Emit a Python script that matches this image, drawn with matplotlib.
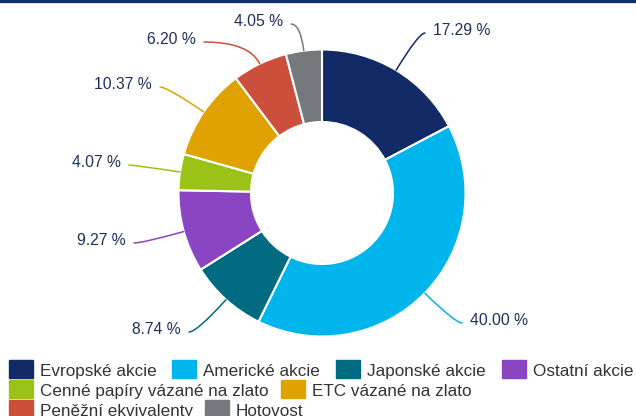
import matplotlib
matplotlib.use("Agg")
import matplotlib.pyplot as plt
import numpy as np

plt.rcParams['font.family'] = ['Liberation Sans', 'DejaVu Sans']

categories = ['Evropské akcie', 'Americké akcie', 'Japonské akcie', 'Ostatní akcie',
              'Cenné papíry vázané na zlato', 'ETC vázané na zlato',
              'Peněžní ekvivalenty', 'Hotovost']
values = [17.29, 40.00, 8.74, 9.27, 4.07, 10.37, 6.20, 4.05]
colors = ['#122b67', '#00b5ec', '#006b80', '#8a45c2',
          '#9bc216', '#e0a200', '#cc4f3b', '#75787d']

# where each leader line ends (pixels, y down)
lab_x = [425, 462, 189, 134, 129, 160, 204, 291]
lab_y = [33, 323, 332, 243, 165, 87, 42, 24]

# legend layout (rows flow like the original)
leg_rows = [[0, 1, 2, 3], [4, 5], [6, 7]]
leg_x = [[9, 172, 336, 502], [9, 281], [9, 205]]
leg_y = [360, 380, 400]

label_col = '#1d2f5c'
legend_col = '#333333'

fig = plt.figure(figsize=(6.36, 4.16), dpi=100)
ax = fig.add_axes([0, 0, 1, 1])

cx, cy, R = 322, 193, 143.5
ax.pie(values, colors=colors, center=(cx, cy), radius=R,
       startangle=-90, counterclock=True,
       wedgeprops=dict(width=72.5, edgecolor='white', linewidth=1.5))

ax.set_xlim(0, 636)
ax.set_ylim(416, 0)
ax.set_aspect('auto')
ax.axis('off')

# top border line
ax.axhline(1.2, color='#10306e', lw=2.4)

# labels with curved leader lines
cum = np.cumsum(values) - np.array(values) / 2
for v, c, m, lx, ly in zip(values, colors, cum, lab_x, lab_y):
    phi = np.radians(m / sum(values) * 360)
    px = cx + R * np.sin(phi)
    py = cy - R * np.cos(phi)
    ang = 90 - np.degrees(phi)
    ax.annotate('', xy=(px, py), xytext=(lx, ly),
                arrowprops=dict(arrowstyle='-', color=c, lw=1.1,
                                shrinkA=0, shrinkB=0,
                                connectionstyle='angle3,angleA=0,angleB=%.2f' % ang))
    if lx > cx:
        ax.text(lx + 8, ly + 2, '%.2f %%' % v, ha='left', va='baseline',
                fontsize=11.3, color=label_col)
    else:
        ax.text(lx - 8, ly + 2, '%.2f %%' % v, ha='right', va='baseline',
                fontsize=11.3, color=label_col)

# legend
for row, xs, y in zip(leg_rows, leg_x, leg_y):
    for i, x in zip(row, xs):
        ax.add_patch(plt.Rectangle((x, y), 24, 18, color=colors[i], clip_on=False))
        ax.text(x + 31, y + 16, categories[i], ha='left', va='baseline',
                fontsize=12.3, color=legend_col)

fig.savefig('out.png', dpi=100)
